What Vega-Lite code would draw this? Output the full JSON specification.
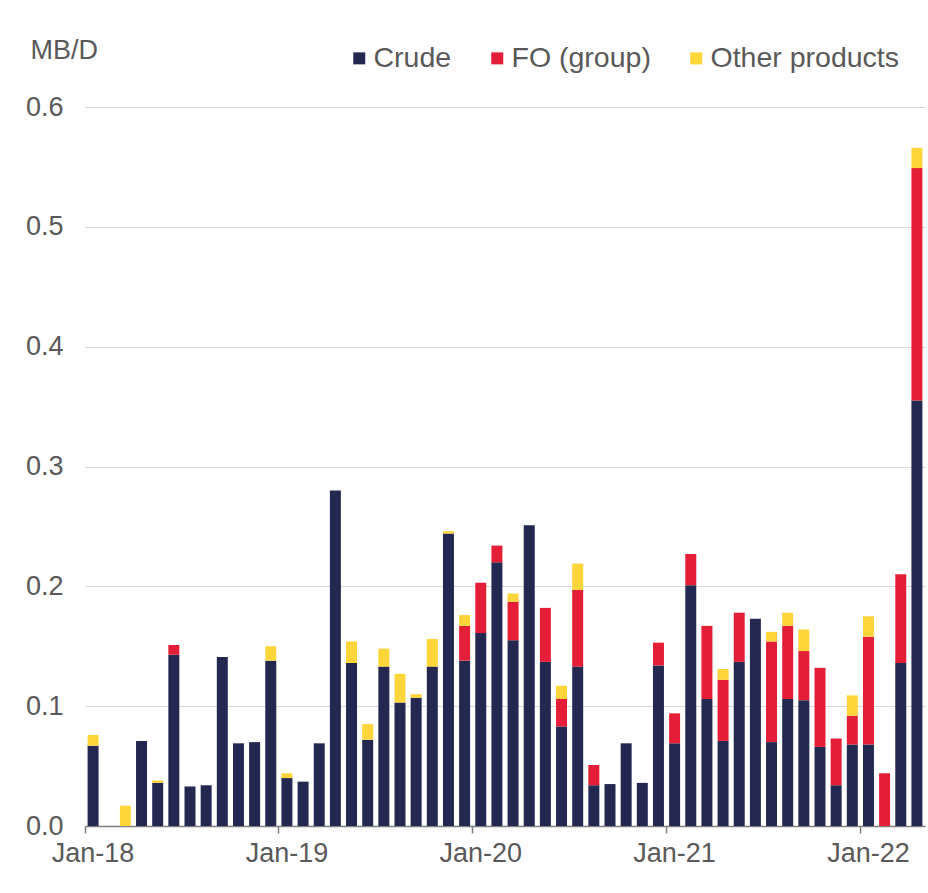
{
  "$schema": "https://vega.github.io/schema/vega-lite/v6.json",
  "width": 840,
  "height": 719,
  "autosize": {"type": "none"},
  "padding": {"left": 85, "top": 107, "right": 3, "bottom": 67},
  "background": "white",
  "config": {
    "font": "Liberation Sans",
    "view": {"stroke": null}
  },
  "data": {
    "values": [
      {"month": "Jan-18", "Crude": 0.067, "FO (group)": 0, "Other products": 0.009},
      {"month": "Feb-18", "Crude": 0, "FO (group)": 0, "Other products": 0},
      {"month": "Mar-18", "Crude": 0, "FO (group)": 0, "Other products": 0.017},
      {"month": "Apr-18", "Crude": 0.071, "FO (group)": 0, "Other products": 0},
      {"month": "May-18", "Crude": 0.036, "FO (group)": 0, "Other products": 0.002},
      {"month": "Jun-18", "Crude": 0.143, "FO (group)": 0.008, "Other products": 0},
      {"month": "Jul-18", "Crude": 0.033, "FO (group)": 0, "Other products": 0},
      {"month": "Aug-18", "Crude": 0.034, "FO (group)": 0, "Other products": 0},
      {"month": "Sep-18", "Crude": 0.141, "FO (group)": 0, "Other products": 0},
      {"month": "Oct-18", "Crude": 0.069, "FO (group)": 0, "Other products": 0},
      {"month": "Nov-18", "Crude": 0.070, "FO (group)": 0, "Other products": 0},
      {"month": "Dec-18", "Crude": 0.138, "FO (group)": 0, "Other products": 0.012},
      {"month": "Jan-19", "Crude": 0.040, "FO (group)": 0, "Other products": 0.004},
      {"month": "Feb-19", "Crude": 0.037, "FO (group)": 0, "Other products": 0},
      {"month": "Mar-19", "Crude": 0.069, "FO (group)": 0, "Other products": 0},
      {"month": "Apr-19", "Crude": 0.280, "FO (group)": 0, "Other products": 0},
      {"month": "May-19", "Crude": 0.136, "FO (group)": 0, "Other products": 0.018},
      {"month": "Jun-19", "Crude": 0.072, "FO (group)": 0, "Other products": 0.013},
      {"month": "Jul-19", "Crude": 0.133, "FO (group)": 0, "Other products": 0.015},
      {"month": "Aug-19", "Crude": 0.103, "FO (group)": 0, "Other products": 0.024},
      {"month": "Sep-19", "Crude": 0.107, "FO (group)": 0, "Other products": 0.003},
      {"month": "Oct-19", "Crude": 0.133, "FO (group)": 0, "Other products": 0.023},
      {"month": "Nov-19", "Crude": 0.244, "FO (group)": 0, "Other products": 0.002},
      {"month": "Dec-19", "Crude": 0.138, "FO (group)": 0.029, "Other products": 0.009},
      {"month": "Jan-20", "Crude": 0.161, "FO (group)": 0.042, "Other products": 0},
      {"month": "Feb-20", "Crude": 0.220, "FO (group)": 0.014, "Other products": 0},
      {"month": "Mar-20", "Crude": 0.155, "FO (group)": 0.032, "Other products": 0.007},
      {"month": "Apr-20", "Crude": 0.251, "FO (group)": 0, "Other products": 0},
      {"month": "May-20", "Crude": 0.137, "FO (group)": 0.045, "Other products": 0},
      {"month": "Jun-20", "Crude": 0.083, "FO (group)": 0.023, "Other products": 0.011},
      {"month": "Jul-20", "Crude": 0.133, "FO (group)": 0.064, "Other products": 0.022},
      {"month": "Aug-20", "Crude": 0.034, "FO (group)": 0.017, "Other products": 0},
      {"month": "Sep-20", "Crude": 0.035, "FO (group)": 0, "Other products": 0},
      {"month": "Oct-20", "Crude": 0.069, "FO (group)": 0, "Other products": 0},
      {"month": "Nov-20", "Crude": 0.036, "FO (group)": 0, "Other products": 0},
      {"month": "Dec-20", "Crude": 0.134, "FO (group)": 0.019, "Other products": 0},
      {"month": "Jan-21", "Crude": 0.069, "FO (group)": 0.025, "Other products": 0},
      {"month": "Feb-21", "Crude": 0.201, "FO (group)": 0.026, "Other products": 0},
      {"month": "Mar-21", "Crude": 0.106, "FO (group)": 0.061, "Other products": 0},
      {"month": "Apr-21", "Crude": 0.071, "FO (group)": 0.051, "Other products": 0.009},
      {"month": "May-21", "Crude": 0.137, "FO (group)": 0.041, "Other products": 0},
      {"month": "Jun-21", "Crude": 0.173, "FO (group)": 0, "Other products": 0},
      {"month": "Jul-21", "Crude": 0.070, "FO (group)": 0.084, "Other products": 0.008},
      {"month": "Aug-21", "Crude": 0.106, "FO (group)": 0.061, "Other products": 0.011},
      {"month": "Sep-21", "Crude": 0.105, "FO (group)": 0.041, "Other products": 0.018},
      {"month": "Oct-21", "Crude": 0.066, "FO (group)": 0.066, "Other products": 0},
      {"month": "Nov-21", "Crude": 0.034, "FO (group)": 0.039, "Other products": 0},
      {"month": "Dec-21", "Crude": 0.068, "FO (group)": 0.024, "Other products": 0.017},
      {"month": "Jan-22", "Crude": 0.068, "FO (group)": 0.090, "Other products": 0.017},
      {"month": "Feb-22", "Crude": 0, "FO (group)": 0.044, "Other products": 0},
      {"month": "Mar-22", "Crude": 0.136, "FO (group)": 0.074, "Other products": 0},
      {"month": "Apr-22", "Crude": 0.355, "FO (group)": 0.194, "Other products": 0.017}
    ]
  },
  "transform": [
    {"fold": ["Crude", "FO (group)", "Other products"], "as": ["product", "value"]}
  ],
  "mark": {"type": "bar", "width": {"band": 0.68}},
  "encoding": {
    "x": {
      "field": "month",
      "type": "ordinal",
      "sort": null,
      "scale": {"paddingInner": 0, "paddingOuter": 0},
      "axis": {
        "title": null,
        "values": ["Jan-18", "Jan-19", "Jan-20", "Jan-21", "Jan-22"],
        "bandPosition": 0,
        "labelAngle": 0,
        "labelFontSize": 27,
        "labelColor": "#595959",
        "labelPadding": 7,
        "domainColor": "#7f7f7f",
        "domainWidth": 1.5,
        "tickColor": "#7f7f7f",
        "tickWidth": 1.5,
        "tickSize": 7,
        "grid": false
      }
    },
    "y": {
      "field": "value",
      "type": "quantitative",
      "stack": "zero",
      "scale": {"domain": [0, 0.6], "nice": false},
      "axis": {
        "title": "MB/D",
        "titleAngle": 0,
        "titleAlign": "left",
        "titleBaseline": "middle",
        "titleX": -55,
        "titleY": -57,
        "titleFontSize": 27,
        "titleFontWeight": "normal",
        "titleColor": "#595959",
        "values": [0, 0.1, 0.2, 0.3, 0.4, 0.5, 0.6],
        "format": ".1f",
        "labelFontSize": 27,
        "labelColor": "#595959",
        "labelPadding": 22,
        "ticks": false,
        "domain": false,
        "grid": true,
        "gridColor": "#d9d9d9",
        "gridWidth": 1
      }
    },
    "color": {
      "field": "product",
      "type": "nominal",
      "scale": {
        "domain": ["Crude", "FO (group)", "Other products"],
        "range": ["#222850", "#E41E36", "#FFD539"]
      },
      "legend": {
        "title": null,
        "orient": "none",
        "direction": "horizontal",
        "legendX": 260,
        "legendY": -63,
        "labelFontSize": 28.5,
        "labelColor": "#595959",
        "labelLimit": 400,
        "symbolType": "square",
        "symbolSize": 144,
        "symbolStrokeWidth": 0,
        "labelOffset": 0,
        "columnPadding": 31
      }
    },
    "order": {"field": "product", "sort": "ascending"}
  }
}
